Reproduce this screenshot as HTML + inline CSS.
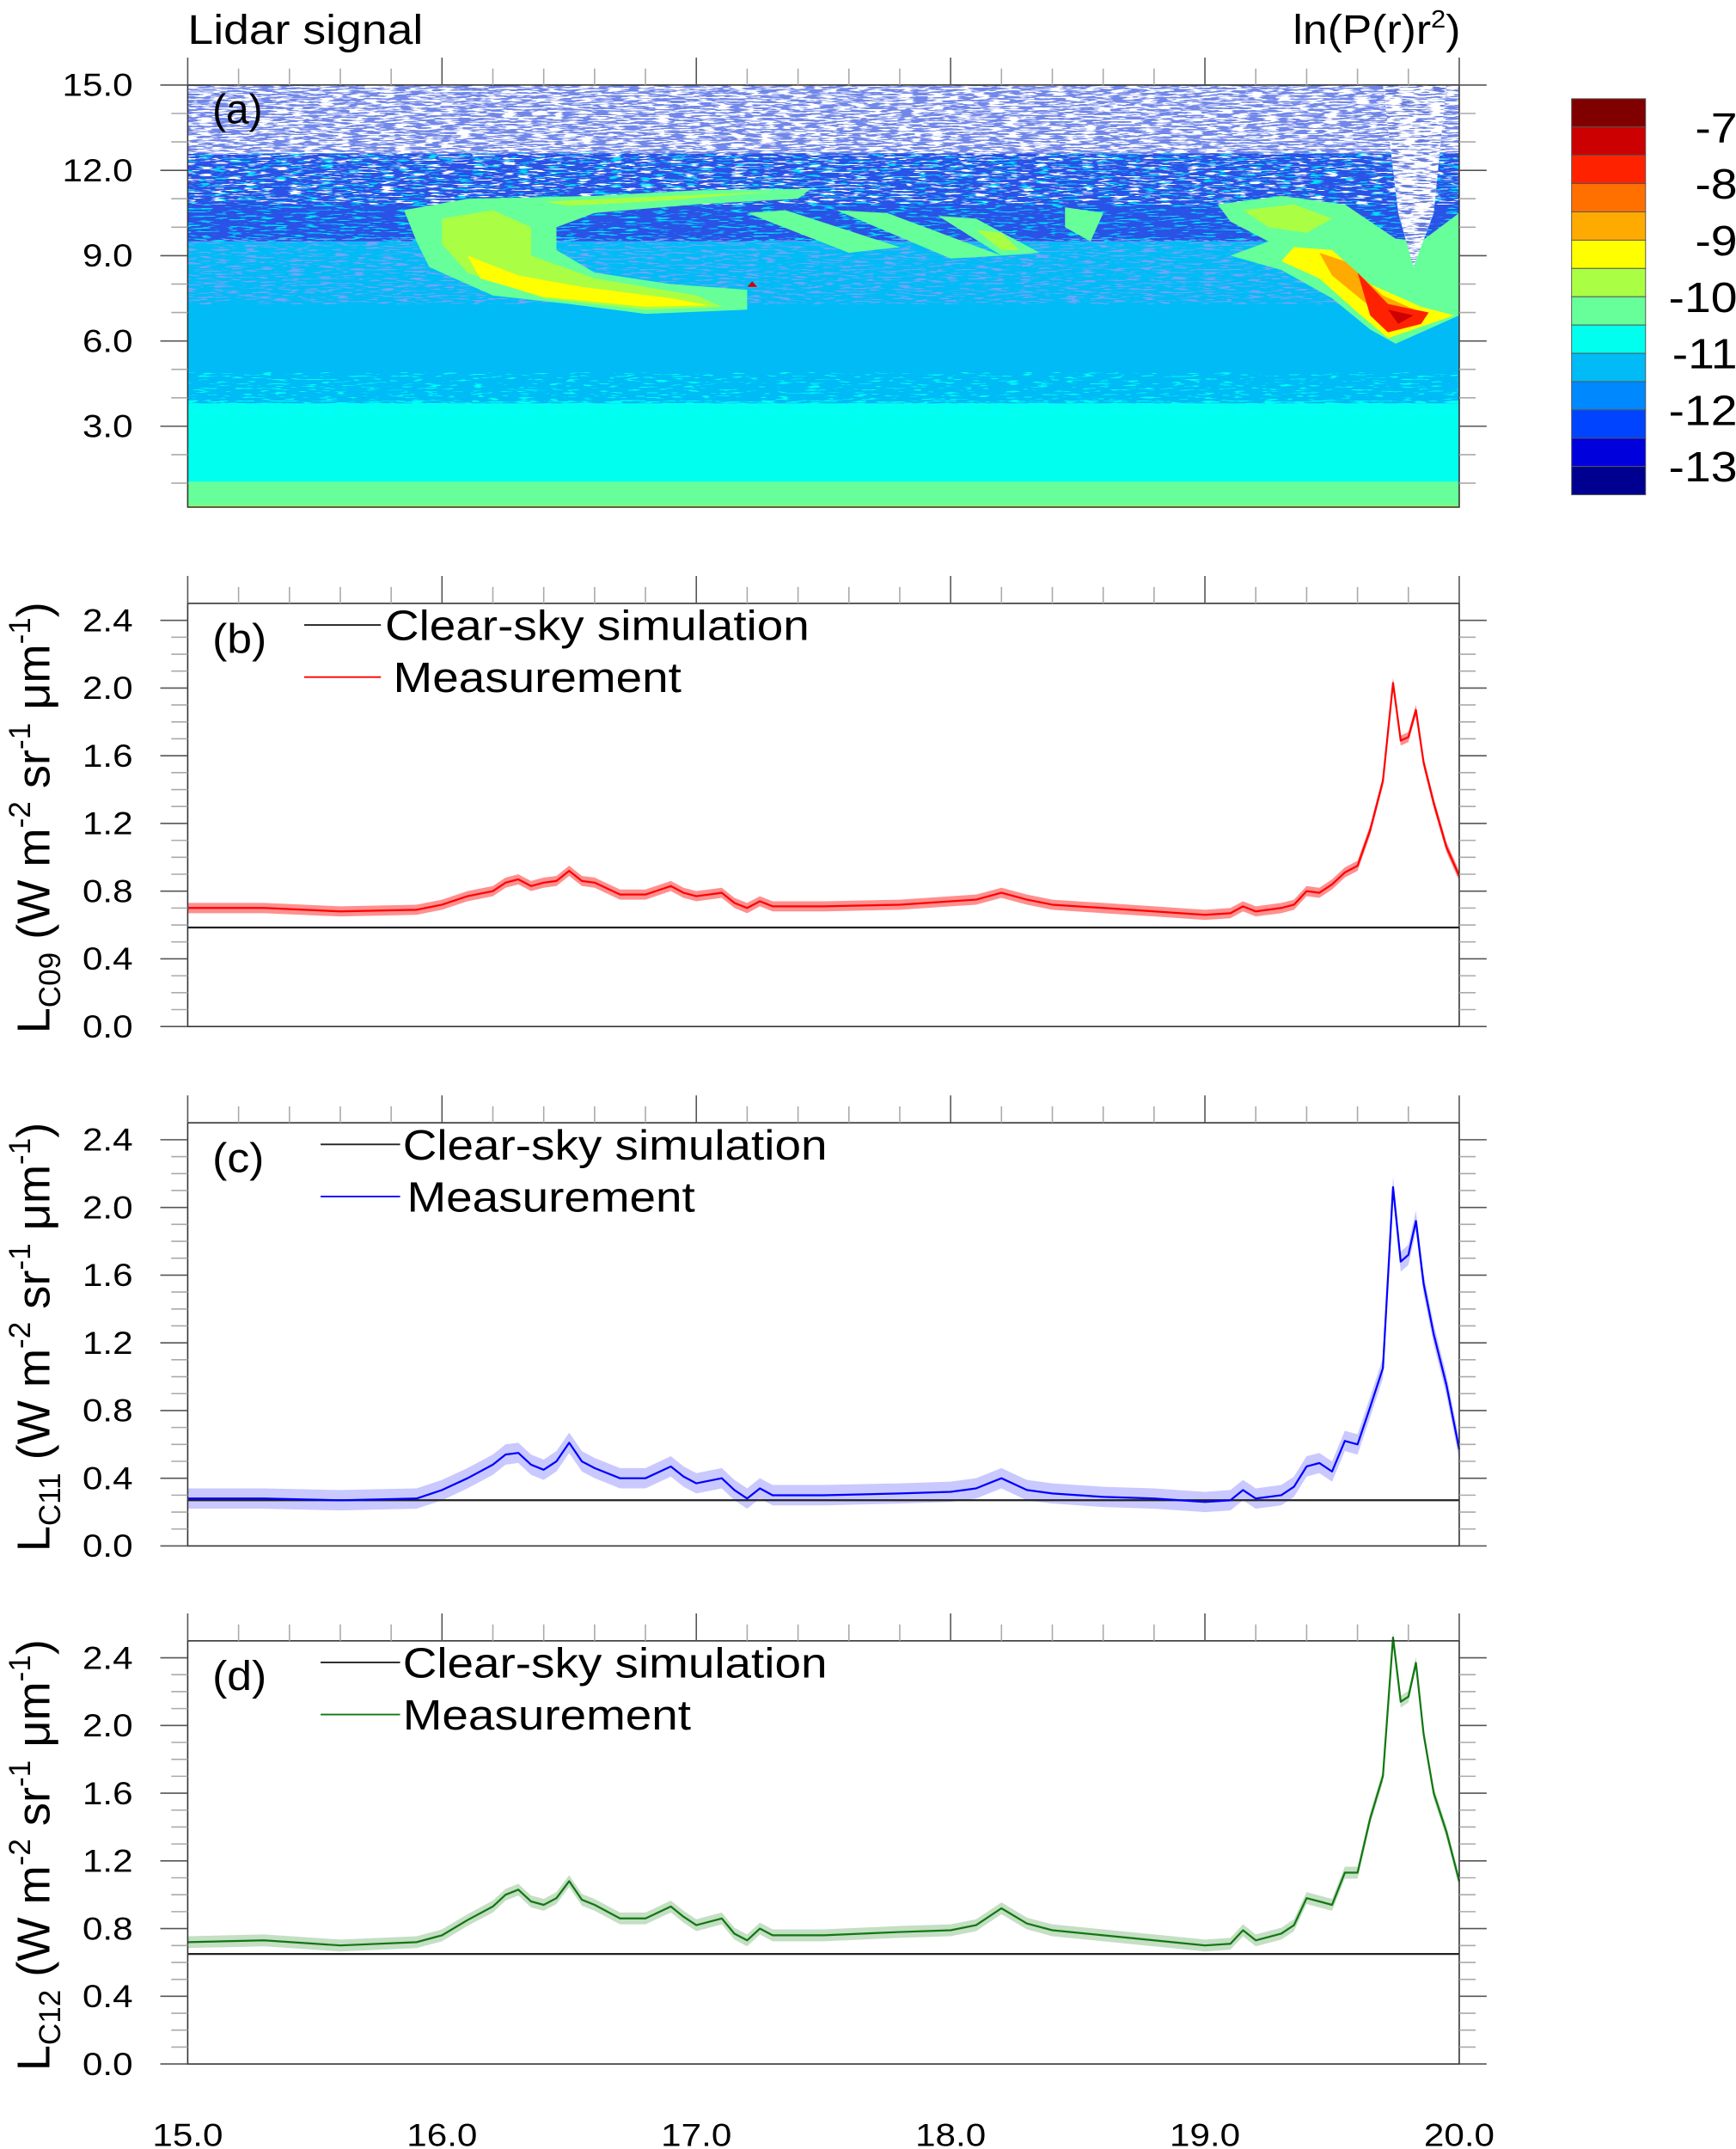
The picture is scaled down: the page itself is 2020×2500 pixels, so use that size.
<!DOCTYPE html>
<html><head><meta charset="utf-8">
<style>
html,body{margin:0;padding:0;background:#fff;}
svg{display:block;font-family:"Liberation Sans",Arial,sans-serif;}
</style></head>
<body>
<svg id="fig" width="2020" height="2500" viewBox="0 0 1267 1568" xmlns="http://www.w3.org/2000/svg">
<defs id="defs">
<clipPath id="clipA"><rect x="137" y="62" width="928" height="308"/></clipPath>
</defs>
<g id="panelA"></g>
<g id="panelB"></g>
<g id="panelC"></g>
<g id="panelD"></g>
</svg>
<script>
// ---- data ----
const hours = [15.0,15.3,15.6,15.9,16.0,16.1,16.2,16.25,16.3,16.35,16.4,16.45,16.5,16.55,16.6,16.7,16.8,16.9,16.95,17.0,17.1,17.15,17.2,17.25,17.3,17.5,17.8,18.0,18.1,18.2,18.3,18.4,18.6,18.8,19.0,19.1,19.15,19.2,19.3,19.35,19.4,19.45,19.5,19.55,19.6,19.65,19.7,19.74,19.77,19.8,19.83,19.86,19.9,19.95,20.0];
const measC09 = [0.70,0.70,0.68,0.69,0.72,0.77,0.80,0.85,0.87,0.83,0.85,0.86,0.92,0.86,0.85,0.78,0.78,0.83,0.79,0.77,0.79,0.73,0.70,0.74,0.71,0.71,0.72,0.74,0.75,0.79,0.75,0.72,0.70,0.68,0.66,0.67,0.71,0.68,0.70,0.72,0.80,0.79,0.84,0.91,0.95,1.16,1.45,2.03,1.69,1.71,1.87,1.56,1.32,1.06,0.89];
const measC11 = [0.28,0.28,0.27,0.28,0.33,0.40,0.48,0.54,0.55,0.48,0.45,0.50,0.61,0.50,0.46,0.40,0.40,0.47,0.41,0.37,0.40,0.33,0.28,0.34,0.30,0.30,0.31,0.32,0.34,0.40,0.33,0.31,0.29,0.28,0.26,0.27,0.33,0.28,0.30,0.35,0.47,0.49,0.44,0.62,0.60,0.82,1.05,2.12,1.68,1.72,1.92,1.55,1.25,0.95,0.57];
const measC12 = [0.72,0.73,0.70,0.72,0.76,0.85,0.93,1.00,1.03,0.96,0.94,0.98,1.08,0.97,0.94,0.86,0.86,0.93,0.87,0.82,0.86,0.77,0.73,0.80,0.76,0.76,0.78,0.79,0.82,0.92,0.83,0.79,0.76,0.73,0.70,0.71,0.79,0.73,0.77,0.82,0.98,0.96,0.94,1.13,1.13,1.45,1.70,2.52,2.14,2.17,2.37,1.95,1.60,1.37,1.08];
const clearSky = [0.585, 0.27, 0.65];
const uncertainty = [0.03, 0.06, 0.035];
const yTickLabels = ["0.0","0.4","0.8","1.2","1.6","2.0","2.4"];
const xTickLabels = ["15.0","16.0","17.0","18.0","19.0","20.0"];
const altTickLabels = ["3.0","6.0","9.0","12.0","15.0"];
const cbarLabels = ["-7","-8","-9","-10","-11","-12","-13"];
const cbarColors = ["#800000","#cc0000","#ff2200","#ff7000","#ffaa00","#ffff00","#aaff44","#66ff99","#00ffee","#00bbf5","#0088ff","#0044ff","#0000dd","#000090"];
// lidar base layers
const layerBottom = [0.0, 0.08, 0.2, 1.05, 3.8, 9.5, 12.6];
const layerTop    = [0.08, 0.2, 1.05, 3.8, 9.5, 12.6, 15.0];
const layerFill   = ["#1e90ff","#ffff00","#66ff99","#00ffee","#00bbf5","#2a52e6","#ffffff"];
// speckle overlays: [zBottom, zTop, colour, density]
const speckBottom = [3.3, 3.9, 7.3, 9.5, 10.8, 12.6];
const speckTop    = [3.9, 4.9, 9.6, 12.6, 12.6, 15.0];
const speckColor  = ["#00ffee","#00ffee","#2a60f0","#00bbf5","#ffffff","#2a3ed0"];
const speckDensity= [0.45, 0.15, 0.35, 0.25, 0.25, 0.65];
// cloud contours (hour, km)
const cloudLevel = [7, 6, 6, 5, 1, 7, 7, 7, 6, 7, 7, 6, 5, 4, 2, 1];
const cloudShapes = [
 [[15.85,10.6],[16.1,11.0],[16.6,11.1],[17.0,11.3],[17.45,11.35],[17.4,11.0],[17.0,10.8],[16.6,10.5],[16.45,10.0],[16.45,9.2],[16.6,8.4],[16.9,8.0],[17.2,7.8],[17.2,7.1],[16.8,6.95],[16.5,7.3],[16.2,7.6],[15.95,8.6],[15.9,9.5]],
 [[16.0,10.3],[16.2,10.6],[16.35,10.0],[16.35,9.0],[16.6,8.2],[17.0,7.6],[17.1,7.2],[16.8,7.1],[16.4,7.5],[16.1,8.4],[16.0,9.4]],
 [[16.4,10.9],[16.9,11.1],[17.3,11.25],[16.9,10.95],[16.5,10.75]],
 [[16.1,9.0],[16.3,8.3],[16.55,7.9],[16.9,7.5],[17.05,7.25],[16.8,7.2],[16.4,7.55],[16.15,8.2]],
 [[17.22,8.1],[17.24,7.9],[17.2,7.9]],
 [[17.2,10.5],[17.35,10.6],[17.8,9.3],[17.6,9.1]],
 [[17.55,10.6],[17.75,10.5],[18.2,9.0],[18.0,8.9]],
 [[17.95,10.4],[18.1,10.3],[18.35,9.1],[18.2,9.0]],
 [[18.1,9.9],[18.2,9.8],[18.27,9.2],[18.2,9.2]],
 [[18.45,10.7],[18.6,10.5],[18.55,9.5],[18.45,10.0]],
 [[19.05,10.8],[19.3,11.1],[19.55,10.8],[19.65,10.2],[19.75,9.6],[19.85,9.5],[20.0,10.5],[20.0,6.9],[19.9,6.5],[19.75,5.9],[19.65,6.4],[19.5,7.5],[19.3,8.5],[19.1,9.0],[19.25,9.5],[19.1,10.2]],
 [[19.15,10.6],[19.35,10.8],[19.5,10.3],[19.4,9.8],[19.25,10.0]],
 [[19.35,9.3],[19.5,9.2],[19.65,8.0],[19.85,7.2],[19.98,6.9],[19.85,6.5],[19.72,6.1],[19.6,7.0],[19.45,8.2],[19.3,8.8]],
 [[19.45,9.1],[19.55,8.8],[19.7,7.6],[19.85,7.0],[19.75,6.5],[19.65,7.2],[19.5,8.3]],
 [[19.6,8.4],[19.72,7.3],[19.88,7.0],[19.85,6.6],[19.72,6.3],[19.65,6.9]],
 [[19.72,7.1],[19.82,6.9],[19.76,6.6]]
];
// clear cone above the right cloud (hour, km)
const coneShape = [[19.7,15],[19.95,15],[19.9,10.5],[19.82,8.6],[19.76,10.5]];

const NS = "http://www.w3.org/2000/svg";
function mk(parent, tag, attrs, text){const e=document.createElementNS(NS,tag);for(const k in attrs)e.setAttribute(k,attrs[k]);if(text!==undefined)e.textContent=text;parent.appendChild(e);return e;}
function widen(e,f){const L=e.getComputedTextLength();e.setAttribute('textLength',(L*f).toFixed(1));e.setAttribute('lengthAdjust','spacingAndGlyphs');}
const X0=137, X1=1065;
function xs(h){return X0+(h-15)*(X1-X0)/5;}
function ya(z){return 373.25 - z*20.75;}
const defs=document.getElementById('defs');
function hex2rgb(h){return [1,3,5].map(i=>parseInt(h.substr(i,2),16)/255);}
function speckFilter(id,color,density,seed){
  const f=mk(defs,'filter',{id:id,x:0,y:0,width:'100%',height:'100%'});
  mk(f,'feTurbulence',{type:'fractalNoise',baseFrequency:'0.09 0.9',numOctaves:2,seed:seed});
  const c=hex2rgb(color), t=0.5+(0.5-density)*0.35;
  mk(f,'feColorMatrix',{type:'matrix',values:`0 0 0 0 ${c[0]}  0 0 0 0 ${c[1]}  0 0 0 0 ${c[2]}  14 0 0 0 ${-14*t}`});
}

// ---- panel a ----
const A=document.getElementById('panelA');
const heat=mk(A,'g',{'clip-path':'url(#clipA)'});


for(let i=0;i<layerBottom.length;i++){
  const r=mk(heat,'rect',{x:X0,y:ya(layerTop[i]),width:X1-X0,height:ya(layerBottom[i])-ya(layerTop[i]),fill:layerFill[i]});
  
  
}
for(let i=0;i<speckBottom.length;i++){
  speckFilter('sp'+i,speckColor[i],speckDensity[i],11+i*5);
  const r=mk(heat,'rect',{x:X0,y:ya(speckTop[i]),width:X1-X0,height:ya(speckBottom[i])-ya(speckTop[i]),filter:'url(#sp'+i+')'});
  
  
}
for(let c=0;c<cloudShapes.length;c++){
  const pts=cloudShapes[c].map(p=>xs(p[0]).toFixed(1)+','+ya(p[1]).toFixed(1)).join(' ');
  const p=mk(heat,'polygon',{points:pts,fill:cbarColors[cloudLevel[c]]});
  
  
}
const conePts=coneShape.map(p=>xs(p[0]).toFixed(1)+','+ya(p[1]).toFixed(1)).join(' ');
const cp=mk(defs,'clipPath',{id:'coneClip'});mk(cp,'polygon',{points:conePts});
const cone=mk(heat,'polygon',{points:conePts,fill:'#ffffff'});

speckFilter('spc','#2233bb',0.45,99);
mk(heat,'rect',{x:X0,y:62,width:X1-X0,height:308,filter:'url(#spc)','clip-path':'url(#coneClip)'});
mk(A,'rect',{x:X0,y:62,width:X1-X0,height:308,fill:'none',stroke:'#333','stroke-width':1});
function xTicksTop(g,top){
  for(let k=0;k<=25;k++){const h=15+k*0.2;const major=k%5===0;
    mk(g,'line',{x1:xs(h),x2:xs(h),y1:top,y2:top-(major?20:12),stroke:major?'#555':'#aaa','stroke-width':1});}
}
xTicksTop(A,62);
for(let z=1;z<=15;z++){const major=z%3===0;
  mk(A,'line',{x1:X0-(major?20:12),x2:X0,y1:ya(z),y2:ya(z),stroke:major?'#555':'#aaa'});
  mk(A,'line',{x1:X1,x2:X1+(major?20:12),y1:ya(z),y2:ya(z),stroke:major?'#555':'#aaa'});}
altTickLabels.forEach((t,i)=>{const e=mk(A,'text',{x:97,y:ya(3*(i+1))+8,'font-size':23,'text-anchor':'end'},t);
  widen(e,1.15);});
const ta=mk(A,'text',{x:137,y:32,'font-size':30},'Lidar signal');widen(ta,1.12);
const tr=mk(A,'text',{x:1066,y:32,'font-size':30,'text-anchor':'end'});
tr.innerHTML='ln(P(r)r<tspan dy="-12" font-size="18">2</tspan><tspan dy="12">)</tspan>';widen(tr,1.08);
const la=mk(A,'text',{x:155,y:90,'font-size':30},'(a)');
// colorbar
const cb=mk(A,'g',{});
const cbTop=72, cbStep=(361-72)/cbarColors.length;
cbarColors.forEach((c,i)=>{const r=mk(cb,'rect',{x:1147,y:cbTop+i*cbStep,width:54,height:cbStep,fill:c,stroke:'#555','stroke-width':0.6});
  });
cbarLabels.forEach((t,i)=>{const e=mk(cb,'text',{x:1268,y:cbTop+(i+1)*cbStep*2-cbStep+11,'font-size':31,'text-anchor':'end'},t);
  widen(e,1.12);});

// ---- line panels ----
const panels=[
 {id:'panelB',zero:749,series:measC09,color:'#ff0000',band:'rgba(255,70,70,0.6)',lab:'(b)',sub:'C09',leg:[222,278,281,287],ly:456,idx:0},
 {id:'panelC',zero:1128,series:measC11,color:'#0000ff',band:'rgba(120,120,255,0.4)',lab:'(c)',sub:'C11',leg:[234,292,294,297],ly:835,idx:1},
 {id:'panelD',zero:1506,series:measC12,color:'#117711',band:'rgba(60,150,60,0.3)',lab:'(d)',sub:'C12',leg:[234,292,294,294],ly:1213,idx:2}
];
panels.forEach(P=>{
  const g=document.getElementById(P.id);
  const u=123.5;
  const yv=v=>P.zero-v*u;
  const top=yv(2.5);
  const ser=P.series, d=uncertainty[P.idx];
  let up=hours.map((h,i)=>xs(h).toFixed(1)+','+yv(ser[i]+d).toFixed(1));
  let dn=hours.map((h,i)=>xs(h).toFixed(1)+','+yv(ser[i]-d).toFixed(1)).reverse();
  const band=mk(g,'polygon',{points:up.concat(dn).join(' '),fill:P.band,stroke:'none'});
  
  const cs=mk(g,'line',{x1:X0,x2:X1,y1:yv(clearSky[P.idx]),y2:yv(clearSky[P.idx]),stroke:'#222','stroke-width':1.4});
  
  const ln=mk(g,'polyline',{points:hours.map((h,i)=>xs(h).toFixed(1)+','+yv(ser[i]).toFixed(1)).join(' '),fill:'none',stroke:P.color,'stroke-width':1.4,'stroke-linejoin':'round'});
  
  mk(g,'rect',{x:X0,y:top,width:X1-X0,height:P.zero-top,fill:'none',stroke:'#333','stroke-width':1});
  xTicksTop(g,top);
  for(let k=0;k<=24;k++){const v=k*0.1;const major=k%4===0;
    mk(g,'line',{x1:X0-(major?20:12),x2:X0,y1:yv(v),y2:yv(v),stroke:major?'#555':'#aaa'});
    mk(g,'line',{x1:X1,x2:X1+(major?20:12),y1:yv(v),y2:yv(v),stroke:major?'#555':'#aaa'});}
  yTickLabels.forEach((t,i)=>{const e=mk(g,'text',{x:97,y:yv(i*0.4)+8,'font-size':23,'text-anchor':'end'},t);
    widen(e,1.15);});
  const pl=mk(g,'text',{x:155,y:top+36,'font-size':30},P.lab);widen(pl,1.08);
  const l1=mk(g,'line',{x1:P.leg[0],x2:P.leg[1],y1:P.ly,y2:P.ly,stroke:'#222','stroke-width':1.2});
  
  const t1=mk(g,'text',{x:P.leg[2],y:P.ly+11,'font-size':31},'Clear-sky simulation');
  widen(t1,1.11);
  const l2=mk(g,'line',{x1:P.leg[0],x2:P.leg[1],y1:P.ly+38,y2:P.ly+38,stroke:P.color,'stroke-width':1.2});
  
  const t2=mk(g,'text',{x:P.leg[3],y:P.ly+49,'font-size':31},'Measurement');
  widen(t2,1.11);
  const cy=(top+P.zero)/2+2;
  const yt=mk(g,'text',{x:0,y:0,'font-size':34,'text-anchor':'middle',transform:'translate(36,'+cy+') rotate(-90)'});
  
  yt.innerHTML='L<tspan dy="8" font-size="22">'+P.sub+'</tspan><tspan dy="-8"> (W m</tspan><tspan dy="-14" font-size="22">-2</tspan><tspan dy="14"> sr</tspan><tspan dy="-14" font-size="22">-1</tspan><tspan dy="14"> μm</tspan><tspan dy="-14" font-size="22">-1</tspan><tspan dy="14">)</tspan>';
});
const D=document.getElementById('panelD');
xTickLabels.forEach((t,i)=>{const e=mk(D,'text',{x:xs(15+i),y:1566,'font-size':23,'text-anchor':'middle'},t);
  widen(e,1.15);});
</script>
</body></html>
